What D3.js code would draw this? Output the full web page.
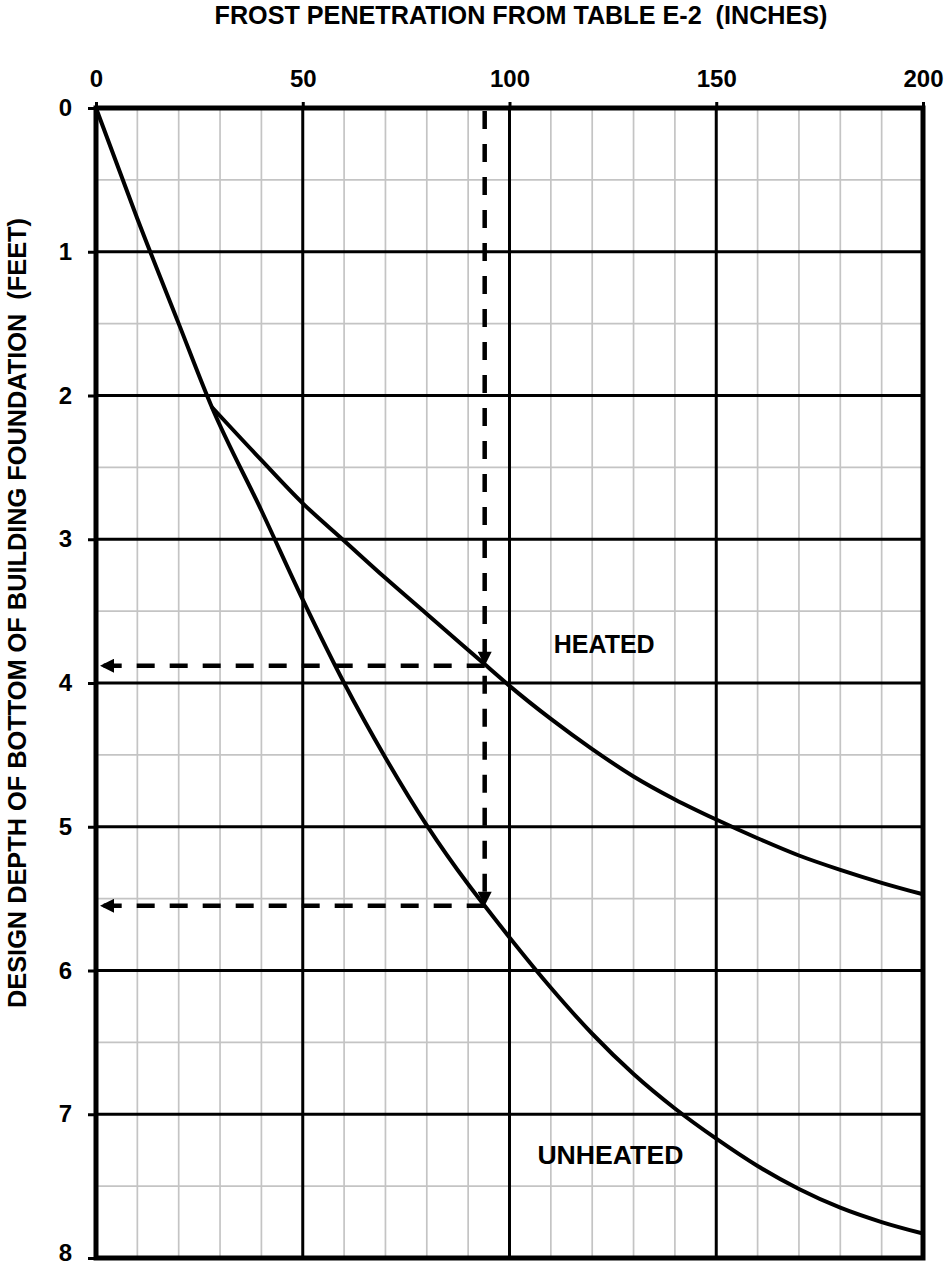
<!DOCTYPE html>
<html>
<head>
<meta charset="utf-8">
<script src="https://cdn.jsdelivr.net/npm/d3@7"></script>
<style>
  body { margin: 0; background: #fff; }
  text { font-family: "Liberation Sans", Arial, sans-serif; font-weight: bold; fill: #000; }
</style>
</head>
<body>
<div id="chart"></div>
<script>
// Frost penetration (inches) vs design depth (feet)
const frostTicks = [0, 50, 100, 150, 200];
const depthTicks = [0, 1, 2, 3, 4, 5, 6, 7, 8];

const unheatedFrost = [0, 10, 20, 28, 40, 50, 60, 70, 80, 90, 94, 100, 110, 120, 130, 140, 150, 160, 170, 180, 190, 200];
const unheatedDepth = [0, 0.77, 1.5, 2.08, 2.8, 3.42, 4.0, 4.52, 4.99, 5.4, 5.55, 5.77, 6.12, 6.44, 6.72, 6.96, 7.17, 7.36, 7.52, 7.65, 7.75, 7.83];

const heatedFrost = [28, 40, 50, 60, 70, 80, 90, 94, 100, 110, 120, 130, 140, 150, 160, 170, 180, 190, 200];
const heatedDepth = [2.08, 2.45, 2.75, 3.01, 3.27, 3.52, 3.77, 3.87, 4.02, 4.25, 4.46, 4.65, 4.81, 4.95, 5.08, 5.2, 5.3, 5.39, 5.47];

// worked example read-off
const exampleFrost = 94;
const exampleDepths = [3.88, 5.55];

const margin = { top: 108, right: 22, bottom: 11, left: 96 };
const width = 945 - margin.left - margin.right;
const height = 1269 - margin.top - margin.bottom;

const svg = d3.select('#chart')
  .append('svg')
  .attr('width', 945)
  .attr('height', 1269);

const g = svg.append('g')
  .attr('transform', 'translate(' + margin.left + ',' + margin.top + ')');

const x = d3.scaleLinear().domain([0, 200]).range([0, width]);
const y = d3.scaleLinear().domain([0, 8]).range([0, height]);

// minor grid
g.append('g')
  .selectAll('line')
  .data(d3.range(10, 200, 10).filter(d => d % 50 !== 0))
  .enter().append('line')
  .attr('x1', d => x(d)).attr('x2', d => x(d))
  .attr('y1', 0).attr('y2', height)
  .attr('stroke', '#c4c4c4').attr('stroke-width', 1.7);

g.append('g')
  .selectAll('line')
  .data(d3.range(0.5, 8, 1))
  .enter().append('line')
  .attr('x1', 0).attr('x2', width)
  .attr('y1', d => y(d)).attr('y2', d => y(d))
  .attr('stroke', '#c4c4c4').attr('stroke-width', 1.7);

// major grid
g.append('g')
  .selectAll('line')
  .data(frostTicks.slice(1, -1))
  .enter().append('line')
  .attr('x1', d => x(d)).attr('x2', d => x(d))
  .attr('y1', 0).attr('y2', height)
  .attr('stroke', '#000').attr('stroke-width', 3);

g.append('g')
  .selectAll('line')
  .data(depthTicks.slice(1, -1))
  .enter().append('line')
  .attr('x1', 0).attr('x2', width)
  .attr('y1', d => y(d)).attr('y2', d => y(d))
  .attr('stroke', '#000').attr('stroke-width', 3);

// axes
const topAxis = g.append('g')
  .call(d3.axisTop(x).tickValues(frostTicks).tickSize(6).tickPadding(15));
const leftAxis = g.append('g')
  .call(d3.axisLeft(y).tickValues(depthTicks).tickSize(8).tickPadding(16));

[topAxis, leftAxis].forEach(a => {
  a.select('.domain').remove();
  a.selectAll('.tick line').attr('stroke', '#000').attr('stroke-width', 3);
  a.selectAll('.tick text').style('font-size', '24px').style('font-weight', 'bold')
    .style('font-family', '"Liberation Sans", Arial, sans-serif');
});
// keep the bottom label inside the page
leftAxis.selectAll('.tick text').filter(d => d === 8).attr('dy', '0.12em');

// frame
g.append('rect')
  .attr('x', 0).attr('y', 0)
  .attr('width', width).attr('height', height)
  .attr('fill', 'none').attr('stroke', '#000').attr('stroke-width', 5);

// arrow marker
svg.append('defs').append('marker')
  .attr('id', 'arrow')
  .attr('viewBox', '0 0 10 10')
  .attr('refX', 10).attr('refY', 5)
  .attr('markerUnits', 'userSpaceOnUse')
  .attr('orient', 'auto')
  .attr('markerWidth', 23).attr('markerHeight', 14)
  .append('path')
  .attr('d', 'M0,0 L10,5 L0,10 Z')
  .attr('fill', '#000');

// example dashed lines
const dash = '18,15';
g.append('line')
  .attr('x1', x(exampleFrost)).attr('x2', x(exampleFrost))
  .attr('y1', y(0) + 3).attr('y2', y(exampleDepths[0]))
  .attr('stroke', '#000').attr('stroke-width', 4.5)
  .attr('stroke-dasharray', dash)
  .attr('marker-end', 'url(#arrow)');
g.append('line')
  .attr('x1', x(exampleFrost)).attr('x2', x(exampleFrost))
  .attr('y1', y(exampleDepths[0]) + 10).attr('y2', y(exampleDepths[1]))
  .attr('stroke', '#000').attr('stroke-width', 4.5)
  .attr('stroke-dasharray', dash)
  .attr('marker-end', 'url(#arrow)');

exampleDepths.forEach(d => {
  g.append('line')
    .attr('x1', x(exampleFrost)).attr('x2', x(0) + 4)
    .attr('y1', y(d)).attr('y2', y(d))
    .attr('stroke', '#000').attr('stroke-width', 4.5)
    .attr('stroke-dasharray', dash)
    .attr('marker-end', 'url(#arrow)');
});

// curves
const line = d3.line()
  .x(d => x(d[0]))
  .y(d => y(d[1]))
  .curve(d3.curveMonotoneX);

g.append('path')
  .datum(d3.zip(unheatedFrost, unheatedDepth))
  .attr('d', line)
  .attr('fill', 'none').attr('stroke', '#000').attr('stroke-width', 4);

g.append('path')
  .datum(d3.zip(heatedFrost, heatedDepth))
  .attr('d', line)
  .attr('fill', 'none').attr('stroke', '#000').attr('stroke-width', 4);

// curve labels
g.append('text')
  .attr('x', x(122.9)).attr('y', y(3.793))
  .attr('text-anchor', 'middle')
  .style('font-size', '25px')
  .text('HEATED');

g.append('text')
  .attr('x', x(124.4)).attr('y', y(7.343))
  .attr('text-anchor', 'middle')
  .style('font-size', '25px')
  .attr('textLength', 146)
  .attr('lengthAdjust', 'spacingAndGlyphs')
  .text('UNHEATED');

// axis titles
svg.append('text')
  .attr('x', 521).attr('y', 24)
  .attr('text-anchor', 'middle')
  .attr('xml:space', 'preserve')
  .style('font-size', '25px')
  .attr('textLength', 613)
  .attr('lengthAdjust', 'spacingAndGlyphs')
  .text('FROST PENETRATION FROM TABLE E-2  (INCHES)');

svg.append('text')
  .attr('transform', 'translate(26,613) rotate(-90)')
  .attr('text-anchor', 'middle')
  .attr('xml:space', 'preserve')
  .style('font-size', '26px')
  .attr('textLength', 790)
  .attr('lengthAdjust', 'spacingAndGlyphs')
  .text('DESIGN DEPTH OF BOTTOM OF BUILDING FOUNDATION  (FEET)');
</script>
</body>
</html>
